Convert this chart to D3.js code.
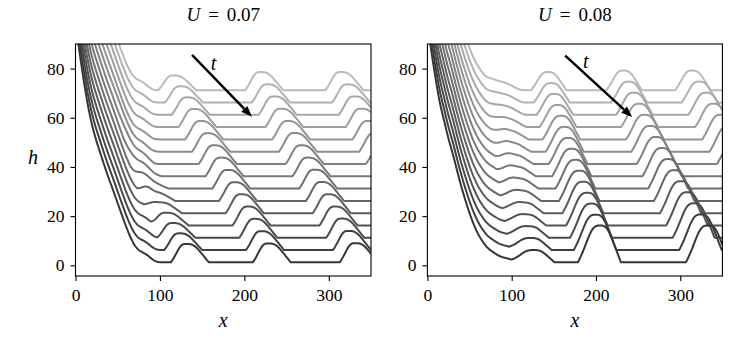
<!DOCTYPE html>
<html><head><meta charset="utf-8">
<script src="https://cdn.jsdelivr.net/npm/d3@7"></script>
<style>
body{margin:0;background:#fff}
svg text{font-family:'Liberation Serif','Times New Roman','DejaVu Serif','Noto Serif',serif !important;}
</style>
</head><body>
<svg id="c" width="747" height="349"></svg>
<script>
// ---------------- data ----------------
const panelTitles = ["0.07", "0.08"];           // U values
const xTicks = [0, 100, 200, 300];
const yTicks = [0, 20, 40, 60, 80];
const xDomain = [0, 350];
const yDomain = [-4.35, 90];
// base level of each curve (earliest time first, offset by 5)
const curveBases = [71.2, 66.2, 61.2, 56.2, 51.2, 46.2, 41.2, 36.2, 31.2, 26.2, 21.2, 16.2, 11.2, 6.2, 1.2];
// front profile (height above base) sampled every 5 units from x=0 to 120
const frontX = [0,5,10,15,20,25,30,35,40,45,50,55,60,65,70,75,80,85,90,95,100,105,110,115,120];
const frontH_a = [97,85,73,63,55,49,43.8,38.5,33.5,29,24,19.2,14.4,10.2,6.8,4.8,4.0,3.0,1.5,0.3,0,0,0,0,0];
const frontH_b = [97,85,74,64,57.5,50,44.5,37.5,31,25.3,19.9,15.3,11.5,8.7,6.3,4.8,3.7,2.6,2.0,1.6,1.1,0.6,0.3,0.1,0];
const frontShift_a = [4.0,3.7,3.4,3.1,2.9,2.6,2.3,2.0,1.7,1.4,1.1,0.9,0.6,0.3,0];
const frontShift_b = [3.0,2.8,2.6,2.4,2.1,1.9,1.7,1.5,1.3,1.1,0.9,0.6,0.4,0.2,0];
// wave crests (x of peak) and their heights above base, per curve
const peaks_a = [
  [116,219,314],[124,227,322],[132,235,330],[140,243,338],[148,251,346],
  [59,156,259,354],[67,164,267,362],[75,172,275],[83,180,283],[91,188,291],
  [99,196,299],[107,204,307],[115,212,315],[123,220,323],[131,228,331]];
const heights_a = [
  [6.0,7.4,7.4],[6.6,7.4,7.4],[7.1,7.5,7.5],[7.4,7.5,7.5],[7.5,7.5,7.5],
  [0.8,7.5,7.6,7.6],[1.4,7.6,7.6,7.6],[2.0,7.6,7.6],[2.8,7.6,7.7],[3.6,7.6,7.7],
  [4.4,7.7,7.7],[5.2,7.7,7.7],[6.0,7.7,7.8],[6.8,7.7,7.8],[7.5,7.7,7.8]];
const rise_a = [18,18,18,18,18,18,18,18,18,18,18,18,18,18,18];
const fall_a = [27,27,27,27,27,27,27,27,27,27,27,27,27,27,27];
const peaks_b = [
  [88,143,232.5,314],[90.3,146.7,238.5,322.2],[92.6,150.5,244.8,330.5],[95.0,154.4,251.1,339.1],
  [97.5,158.5,257.6,347.9],[100.0,162.6,264.3,357.0],[102.7,166.8,271.2,366.3],[105.3,171.1,278.3],
  [108.1,175.6,285.5],[110.9,180.2,292.9],[113.7,184.8,300.5],[116.7,189.6,308.3],
  [119.7,194.6,316.4],[122.9,199.6,324.6],[126.1,204.8,333.0]];
const heights_b = [
  [1.5,7.4,8.0,8.0],[1.8,7.9,8.5,8.5],[2.1,8.5,9.0,9.0],[2.4,9.0,9.5,9.5],
  [2.7,9.6,10.0,10.0],[3.0,10.1,10.5,10.5],[3.3,10.6,11.0,11.0],[3.6,11.2,11.5],
  [3.9,11.7,12.0],[4.1,12.3,12.5],[4.3,12.8,13.0],[4.5,13.3,13.5],
  [4.7,13.9,14.0],[4.9,14.4,14.5],[5.0,15.0,15.0]];
const rise_b = [20,20.5,20.9,21.4,21.8,22.3,22.7,23.2,23.6,24.1,24.5,25,25.4,25.9,26.3];
const fall_b = [22,22.2,22.4,22.6,22.8,23,23.2,23.4,23.6,23.8,24,24.2,24.4,24.6,24.8];
// crest profile (rising flank, falling flank), normalised
const riseShape = [0,0.2,0.45,0.72,0.92,1,1];
const fallShape = [1,1,0.93,0.75,0.5,0.25,0];
// time arrow: [x0,h0,x1,h1] and label position
const arrow_a = [138,85.6,209,60.4], tLabel_a = [163.5,82];
const arrow_b = [163.5,85.3,243,60.3], tLabel_b = [188,82.5];

// ---------------- layout ----------------
const plotTop = 44, plotBottom = 276;
const panels = [
  {left:75.5, right:371, U:panelTitles[0], front:frontH_a, shift:frontShift_a, peaks:peaks_a, heights:heights_a, rise:rise_a, fall:fall_a, arrow:arrow_a, tl:tLabel_a, ylab:true},
  {left:427.4, right:722.4, U:panelTitles[1], front:frontH_b, shift:frontShift_b, peaks:peaks_b, heights:heights_b, rise:rise_b, fall:fall_b, arrow:arrow_b, tl:tLabel_b, ylab:false}
];
const fontFam = "'Liberation Serif','Times New Roman','DejaVu Serif','Noto Serif',serif";
const svg = d3.select('#c');
const defs = svg.append('defs');
const grey = d3.scaleLinear().domain([0,14]).range([186,54]);
const colorOf = j => { const v = Math.round(grey(j)); return `rgb(${v},${v},${v})`; };

panels.forEach((P, pi) => {
  const x = d3.scaleLinear().domain(xDomain).range([P.left, P.right]);
  const y = d3.scaleLinear().domain(yDomain).range([plotBottom, plotTop]);
  const cid = 'clip' + pi;
  defs.append('clipPath').attr('id', cid).append('rect')
    .attr('x', P.left).attr('y', plotTop).attr('width', P.right - P.left).attr('height', plotBottom - plotTop);

  const F = d3.interpolateBasis(P.front);
  const fMax = frontX[frontX.length - 1];
  const riseI = d3.interpolateBasis(riseShape), fallI = d3.interpolateBasis(fallShape);
  const xs = d3.range(0, 350.01, 0.5);
  const lines = svg.append('g').attr('clip-path', `url(#${cid})`);
  const lineGen = d3.line().x(d => x(d[0])).y(d => y(d[1]));

  curveBases.forEach((b, j) => {
    const pts = xs.map(xv => {
      const xf = xv + P.shift[j];
      let h = b + (xf >= fMax ? 0 : F(xf / fMax));
      P.peaks[j].forEach((pk, k) => {
        const s = pk - P.rise[j], e = pk + P.fall[j], H = P.heights[j][k];
        if (xv > s && xv <= pk) h += H * riseI((xv - s) / (pk - s));
        else if (xv > pk && xv < e) h += H * fallI((xv - pk) / (e - pk));
      });
      return [xv, h];
    });
    lines.append('path').attr('d', lineGen(pts))
      .attr('fill', 'none').attr('stroke', colorOf(j))
      .attr('stroke-width', 2).attr('stroke-linejoin', 'round');
  });

  // frame
  svg.append('rect').attr('x', P.left).attr('y', plotTop)
    .attr('width', P.right - P.left).attr('height', plotBottom - plotTop)
    .attr('fill', 'none').attr('stroke', '#000').attr('stroke-width', 1.1);

  // axes
  const ax = svg.append('g').attr('transform', `translate(0,${plotBottom})`)
    .call(d3.axisBottom(x).tickValues(xTicks).tickSize(5).tickSizeOuter(0).tickPadding(8).tickFormat(d3.format('d')));
  const ay = svg.append('g').attr('transform', `translate(${P.left},0)`)
    .call(d3.axisLeft(y).tickValues(yTicks).tickSize(5).tickSizeOuter(0).tickPadding(6).tickFormat(d3.format('d')));
  [ax, ay].forEach(a => {
    a.attr('font-family', fontFam).attr('font-size', 17.5);
    a.select('.domain').remove();
    a.selectAll('line').attr('stroke', '#000').attr('stroke-width', 1.1);
    a.selectAll('text').attr('fill', '#000').attr('font-family', fontFam).attr('font-size', 17.5);
  });

  // title: U = value, with math-style spacing around '='
  const cx = (P.left + P.right) / 2;
  const tt = svg.append('text').attr('x', cx).attr('y', 21).attr('text-anchor', 'middle')
    .attr('font-family', fontFam).attr('font-size', 19);
  tt.append('tspan').attr('font-style', 'italic').text('U');
  tt.append('tspan').attr('dx', 8).text('=');
  tt.append('tspan').attr('dx', 8).text(P.U);

  // x label
  svg.append('text').attr('x', cx).attr('y', 327).attr('text-anchor', 'middle')
    .attr('font-family', fontFam).attr('font-size', 20).attr('font-style', 'italic').text('x');
  if (P.ylab) {
    svg.append('text').attr('x', 33).attr('y', 164).attr('text-anchor', 'middle')
      .attr('font-family', fontFam).attr('font-size', 20).attr('font-style', 'italic').text('h');
  }

  // time arrow
  const [ax0, ah0, ax1, ah1] = P.arrow;
  const X0 = x(ax0), Y0 = y(ah0), X1 = x(ax1), Y1 = y(ah1);
  const ang = Math.atan2(Y1 - Y0, X1 - X0);
  const headL = 11, headW = 4.2;
  const bx = X1 - headL * Math.cos(ang), by = Y1 - headL * Math.sin(ang);
  svg.append('line').attr('x1', X0).attr('y1', Y0).attr('x2', bx).attr('y2', by)
    .attr('stroke', '#000').attr('stroke-width', 2.4);
  const nx = -Math.sin(ang), ny = Math.cos(ang);
  svg.append('polygon').attr('points', [
    [X1, Y1], [bx + nx * headW, by + ny * headW], [bx - nx * headW, by - ny * headW]
  ].map(p => p.join(',')).join(' ')).attr('fill', '#000');
  svg.append('text').attr('x', x(P.tl[0])).attr('y', y(P.tl[1]) + 6).attr('text-anchor', 'middle')
    .attr('font-family', fontFam).attr('font-size', 20).attr('font-style', 'italic').text('t');
});
</script>
</body></html>
